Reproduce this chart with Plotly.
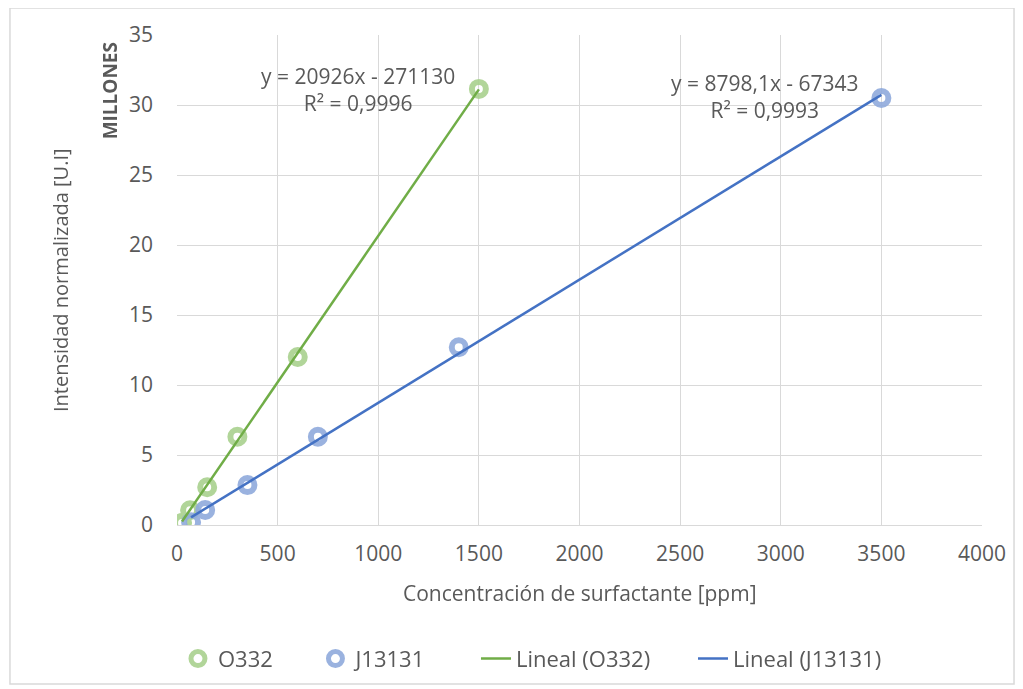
import plotly.graph_objects as go

# Data (y in millions)
o332_x = [25, 65, 150, 300, 600, 1500]
o332_y = [0.15, 1.05, 2.7, 6.3, 12.0, 31.15]
j_x = [70, 140, 350, 700, 1400, 3500]
j_y = [0.2, 1.07, 2.85, 6.3, 12.7, 30.5]

o332_slope, o332_int = 20926, -271130
j_slope, j_int = 8798.1, -67343

x_ticks = [0, 500, 1000, 1500, 2000, 2500, 3000, 3500, 4000]
y_ticks = [0, 5, 10, 15, 20, 25, 30, 35]

font = "Open Sans"
gray = "#595959"

def trend(xs, m, b):
    x0, x1 = min(xs), max(xs)
    return [x0, x1], [(m * x0 + b) / 1e6, (m * x1 + b) / 1e6]

fig = go.Figure()
fig.add_trace(go.Scatter(x=o332_x, y=o332_y, mode="markers", name="O332",
                         opacity=0.9, legend="legend",
                         marker=dict(symbol="circle-open", size=14, color="#A9D18E",
                                     line=dict(width=6, color="#A9D18E"))))
fig.add_trace(go.Scatter(x=j_x, y=j_y, mode="markers", name="J13131",
                         opacity=0.9, legend="legend2",
                         marker=dict(symbol="circle-open", size=14, color="#8FAADC",
                                     line=dict(width=6, color="#8FAADC"))))
tx, ty = trend(o332_x, o332_slope, o332_int)
fig.add_trace(go.Scatter(x=tx, y=ty, mode="lines", name="Lineal (O332)", legend="legend3",
                         line=dict(color="#70AD47", width=2.5)))
tx, ty = trend(j_x, j_slope, j_int)
fig.add_trace(go.Scatter(x=tx, y=ty, mode="lines", name="Lineal (J13131)", legend="legend4",
                         line=dict(color="#4472C4", width=2.5)))

fig.add_annotation(x=899, y=31.1, text="y = 20926x - 271130<br>R² = 0,9996",
                   xanchor="center", yanchor="middle",
                   showarrow=False, font=dict(size=21, color=gray, family=font))
fig.add_annotation(x=2922, y=30.6, text="y = 8798,1x - 67343<br>R² = 0,9993",
                   xanchor="center", yanchor="middle",
                   showarrow=False, font=dict(size=21, color=gray, family=font))
fig.add_annotation(xref="paper", yref="paper", x=-0.0832, y=0.885, text="<b>MILLONES</b>",
                   xanchor="center", yanchor="middle",
                   textangle=-90, showarrow=False, font=dict(size=19, color=gray, family=font))
fig.add_annotation(xref="paper", yref="paper", x=0.5006, y=-0.139,
                   xanchor="center", yanchor="middle",
                   text="Concentración de surfactante [ppm]",
                   showarrow=False, font=dict(size=21, color=gray, family=font))
fig.add_annotation(xref="paper", yref="paper", x=-0.1453, y=0.5,
                   xanchor="center", yanchor="middle",
                   text="Intensidad normalizada [U.I]", textangle=-90,
                   showarrow=False, font=dict(size=20, color=gray, family=font))

fig.add_shape(type="rect", xref="paper", yref="paper", x0=-0.2075, x1=1.0398,
              y0=-0.3245, y1=1.055, line=dict(color="#D9D9D9", width=1.5), layer="below")

def leg(x):
    return dict(orientation="h", x=x, xanchor="left", y=-0.273, yanchor="middle",
                font=dict(size=22, color=gray, family=font), bgcolor="rgba(0,0,0,0)")

fig.update_layout(
    width=1015, height=681,
    margin=dict(l=169, r=41, t=27, b=164, autoexpand=False),
    paper_bgcolor="white", plot_bgcolor="white",
    font=dict(family=font, color=gray, size=21),
    showlegend=True,
    legend=leg(0.0012), legend2=leg(0.172), legend3=leg(0.3714), legend4=leg(0.641),
)
fig.update_xaxes(range=[0, 4000], tickvals=x_ticks, showgrid=True, gridcolor="#D9D9D9",
                 gridwidth=1.2, zeroline=False, showline=True, linecolor="#D9D9D9",
                 linewidth=1.2, ticks="", ticklabelstandoff=10,
                 tickfont=dict(size=21, color=gray, family=font))
fig.update_yaxes(range=[0, 35], tickvals=y_ticks, showgrid=True, gridcolor="#D9D9D9",
                 gridwidth=1.2, zeroline=False, showline=False, ticks="",
                 ticklabelstandoff=23,
                 tickfont=dict(size=21, color=gray, family=font))

fig.write_html("out.html")
